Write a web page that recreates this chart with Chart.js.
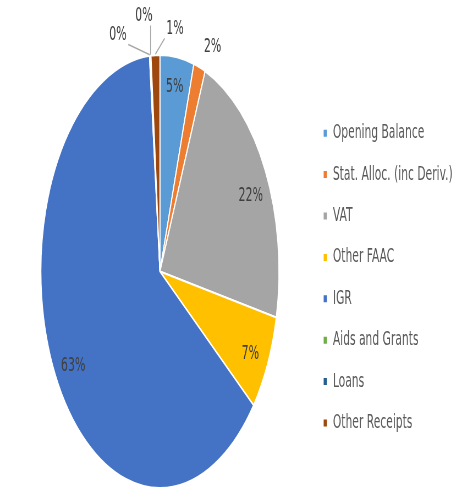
<!DOCTYPE html>
<html>
<head>
<meta charset="utf-8">
<script src="https://cdn.jsdelivr.net/npm/chart.js@4"></script>
<style>
  html, body { margin: 0; padding: 0; background: #fff; overflow: hidden; width: 461px; height: 490px; }
  /* the source picture is squeezed sideways, so the whole chart is drawn wide and squeezed */
  #wrap { width: 833px; height: 490px; transform: scaleX(0.55); transform-origin: 0 0; }
</style>
</head>
<body>
<div id="wrap"><canvas id="pie"></canvas></div>
<script>
// categories and values (percent of receipts)
var categories = ['Opening Balance', 'Stat. Alloc. (inc Deriv.)', 'VAT', 'Other FAAC', 'IGR', 'Aids and Grants', 'Loans', 'Other Receipts'];
var shares = [4.6, 1.6, 22.2, 7.2, 63.0, 0.1, 0.1, 1.2];

// slice colours
var sliceColors = ['#5B9BD5', '#ED7D31', '#A5A5A5', '#FFC000', '#4472C4', '#70AD47', '#255E91', '#9E480E'];

// where each percent label sits: share of radius, turn in degrees, leader line
var labelPlace = [
  {f: 0.86, da: 0},
  {f: 1.13, da: 3.6},
  {f: 0.84, da: 3},
  {f: 0.85, da: 1.5},
  {f: 0.85, da: -2.5},
  {f: 1.15, da: -13, line: true},
  {f: 1.19, da: -2, line: true},
  {f: 1.13, da: 8.6, line: true}
];

var pctLabels = {
  id: 'pctLabels',
  afterDatasetsDraw: function(chart) {
    var ctx = chart.ctx;
    var meta = chart.getDatasetMeta(0);
    var data = chart.data.datasets[0].data;
    var total = data.reduce(function(a, b) { return a + b; }, 0);
    ctx.save();
    ctx.font = '20px "DejaVu Sans"';
    ctx.textAlign = 'center';
    ctx.textBaseline = 'middle';
    meta.data.forEach(function(arc, i) {
      var p = arc.getProps(['x', 'y', 'startAngle', 'endAngle', 'outerRadius'], true);
      var place = labelPlace[i];
      var mid = (p.startAngle + p.endAngle) / 2;
      var a = mid + place.da * Math.PI / 180;
      var lx = p.x + Math.cos(a) * p.outerRadius * place.f;
      var ly = p.y + Math.sin(a) * p.outerRadius * place.f;
      var txt = Math.round(data[i] / total * 100) + '%';
      if (place.line) {
        var w = ctx.measureText(txt).width / 2 + 3;
        var h = 10;
        var ex = p.x + Math.cos(mid) * (p.outerRadius + 1);
        var ey = p.y + Math.sin(mid) * (p.outerRadius + 1);
        var tx = Math.min(Math.max(ex, lx - w), lx + w);
        var ty = Math.min(Math.max(ey, ly - h), ly + h);
        ctx.strokeStyle = '#A6A6A6';
        ctx.lineWidth = 1.5;
        ctx.beginPath();
        ctx.moveTo(ex, ey);
        ctx.lineTo(tx, ty);
        ctx.stroke();
      }
      ctx.fillStyle = '#404040';
      ctx.fillText(txt, lx, ly);
    });
    ctx.restore();
  }
};

var pieChart = new Chart(document.getElementById('pie'), {
  type: 'pie',
  data: {
    labels: categories,
    datasets: [{
      data: shares,
      backgroundColor: sliceColors,
      borderColor: '#ffffff',
      borderWidth: 2,
      hoverOffset: 0
    }]
  },
  options: {
    responsive: true,
    maintainAspectRatio: false,
    animation: false,
    devicePixelRatio: 1,
    layout: { padding: { left: 16, right: 0, top: 54, bottom: 1 } },
    plugins: {
      tooltip: { enabled: false },
      legend: {
        position: 'right',
        title: { display: true, text: '', padding: 6, font: { size: 1 } },
        labels: {
          boxWidth: 8,
          boxHeight: 9,
          padding: 21.9,
          color: '#595959',
          font: { family: '"DejaVu Sans"', size: 19.5 }
        }
      }
    }
  },
  plugins: [pctLabels]
});
</script>
</body>
</html>
